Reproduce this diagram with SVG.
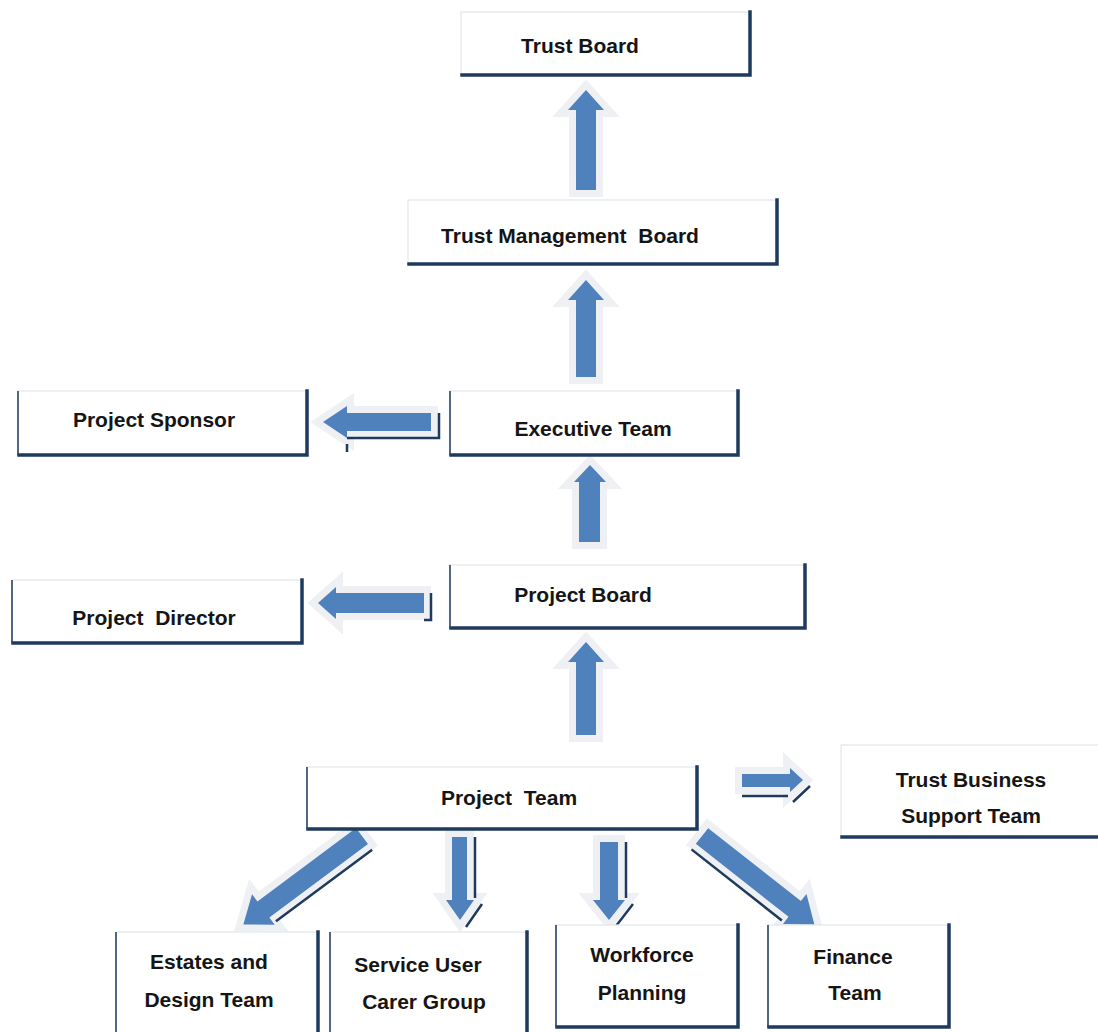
<svg xmlns="http://www.w3.org/2000/svg" width="1098" height="1032" viewBox="0 0 1098 1032">
<style>
.box{fill:#ffffff;stroke:#e2e6ec;stroke-width:1.2}
.edge{fill:none;stroke:#1f3a5f;stroke-width:3.5;stroke-linecap:square}
.ledge{fill:none;stroke:#2a4466;stroke-width:1.6}
.lbl{font-family:"Liberation Sans",Arial,sans-serif;font-weight:bold;font-size:21px;fill:#151515;text-anchor:middle;white-space:pre}
.arr{fill:#4f81bd;stroke:#eef0f3;stroke-width:14;stroke-linejoin:miter;paint-order:stroke}
.arrs{fill:none;stroke:#1f3a5f;stroke-width:2.5;stroke-linejoin:miter}
</style>
<rect width="1098" height="1032" fill="#ffffff"/>
<g id="connectors">
<path class="arr" d="M586,90 L604,110 L596,110 L596,190 L576,190 L576,110 L568,110 Z"/>
<path class="arr" d="M586,280 L604,300 L596,300 L596,377 L576,377 L576,300 L568,300 Z"/>
<path class="arr" d="M590,465 L606,482 L600,482 L600,542 L579,542 L579,482 L574,482 Z"/>
<path class="arr" d="M586,642 L604,662 L596,662 L596,735 L576,735 L576,662 L568,662 Z"/>
<path class="arr" d="M323,422 L347,406 L347,413 L431,413 L431,431 L347,431 L347,438 Z"/>
<path class="arrs" d="M347,444 L347,452 M347,438 L439,438 L439,413"/>
<path class="arr" d="M318,603 L336,587 L336,593 L424,593 L424,613 L336,613 L336,619 Z"/>
<path class="arrs" d="M424,620 L431,620 L431,593"/>
<path class="arr" d="M742,774 L790,774 L790,768 L803,780 L790,792 L790,787 L742,787 Z"/>
<path class="arrs" d="M742,796 L788,796 M793,802 L810,786"/>
<path class="arr" d="M452,837 L467,837 L467,900 L474,900 L460,920 L446,900 L452,900 Z"/>
<path class="arrs" d="M475,837 L475,898 M482,904 L466,927"/>
<path class="arr" d="M600,842 L618,842 L618,900 L625,900 L609,920 L593,900 L600,900 Z"/>
<path class="arrs" d="M626,842 L626,898 M633,904 L616,926"/>
<g transform="translate(362,836) rotate(143.3)">
<path class="arr" d="M0,-10 L123,-10 L123,-19 L148,0 L123,19 L123,10 L0,10 Z"/>
<path class="arrs" d="M0,-17 L120,-17"/>
</g>
<g transform="translate(702,836) rotate(38.2)">
<path class="arr" d="M0,-10 L118,-10 L118,-19 L143,0 L118,19 L118,10 L0,10 Z"/>
<path class="arrs" d="M0,17 L115,17"/>
</g>
</g>
<g id="trust-board">
<rect class="box" x="461" y="12" width="289" height="63"/>
<path class="edge" d="M750,12 L750,75 L462,75"/>
<text class="lbl" x="580" y="53">Trust Board</text>
</g>
<g id="trust-management-board">
<rect class="box" x="408" y="200" width="369" height="64"/>
<path class="edge" d="M777,200 L777,264 L409,264"/>
<text class="lbl" x="570" y="243">Trust Management  Board</text>
</g>
<g id="project-sponsor">
<rect class="box" x="18" y="391" width="289" height="64"/>
<path class="edge" d="M307,391 L307,455 L19,455"/>
<path class="ledge" d="M18,391 L18,455"/>
<text class="lbl" x="154" y="427">Project Sponsor</text>
</g>
<g id="executive-team">
<rect class="box" x="450" y="391" width="288" height="64"/>
<path class="edge" d="M738,391 L738,455 L451,455"/>
<path class="ledge" d="M450,391 L450,455"/>
<text class="lbl" x="593" y="436">Executive Team</text>
</g>
<g id="project-board">
<rect class="box" x="450" y="565" width="355" height="63"/>
<path class="edge" d="M805,565 L805,628 L451,628"/>
<path class="ledge" d="M450,565 L450,628"/>
<text class="lbl" x="583" y="602">Project Board</text>
</g>
<g id="project-director">
<rect class="box" x="12" y="580" width="290" height="63"/>
<path class="edge" d="M302,580 L302,643 L13,643"/>
<path class="ledge" d="M12,580 L12,643"/>
<text class="lbl" x="154" y="625">Project  Director</text>
</g>
<g id="project-team">
<rect class="box" x="307" y="767" width="390" height="62"/>
<path class="edge" d="M697,767 L697,829 L308,829"/>
<path class="ledge" d="M307,767 L307,829"/>
<text class="lbl" x="509" y="805">Project  Team</text>
</g>
<g id="trust-business-support-team">
<rect class="box" x="841" y="745" width="262" height="92"/>
<path class="edge" d="M842,837 L1098,837"/>
<text class="lbl" x="971" y="787">Trust Business</text>
<text class="lbl" x="971" y="823">Support Team</text>
</g>
<g id="estates-design-team">
<rect class="box" x="116" y="932" width="202" height="104"/>
<path class="edge" d="M318,932 L318,1032"/>
<path class="ledge" d="M116,932 L116,1032"/>
<text class="lbl" x="209" y="969">Estates and</text>
<text class="lbl" x="209" y="1007">Design Team</text>
</g>
<g id="service-user-carer-group">
<rect class="box" x="330" y="932" width="197" height="104"/>
<path class="edge" d="M527,932 L527,1032"/>
<path class="ledge" d="M330,932 L330,1032"/>
<text class="lbl" x="418" y="972">Service User</text>
<text class="lbl" x="424" y="1009">Carer Group</text>
</g>
<g id="workforce-planning">
<rect class="box" x="556" y="925" width="182" height="102"/>
<path class="edge" d="M738,925 L738,1027 L557,1027"/>
<path class="ledge" d="M556,925 L556,1027"/>
<text class="lbl" x="642" y="962">Workforce</text>
<text class="lbl" x="642" y="1000">Planning</text>
</g>
<g id="finance-team">
<rect class="box" x="768" y="925" width="181" height="102"/>
<path class="edge" d="M949,925 L949,1027 L769,1027"/>
<path class="ledge" d="M768,925 L768,1027"/>
<text class="lbl" x="853" y="964">Finance</text>
<text class="lbl" x="855" y="1000">Team</text>
</g>
</svg>
